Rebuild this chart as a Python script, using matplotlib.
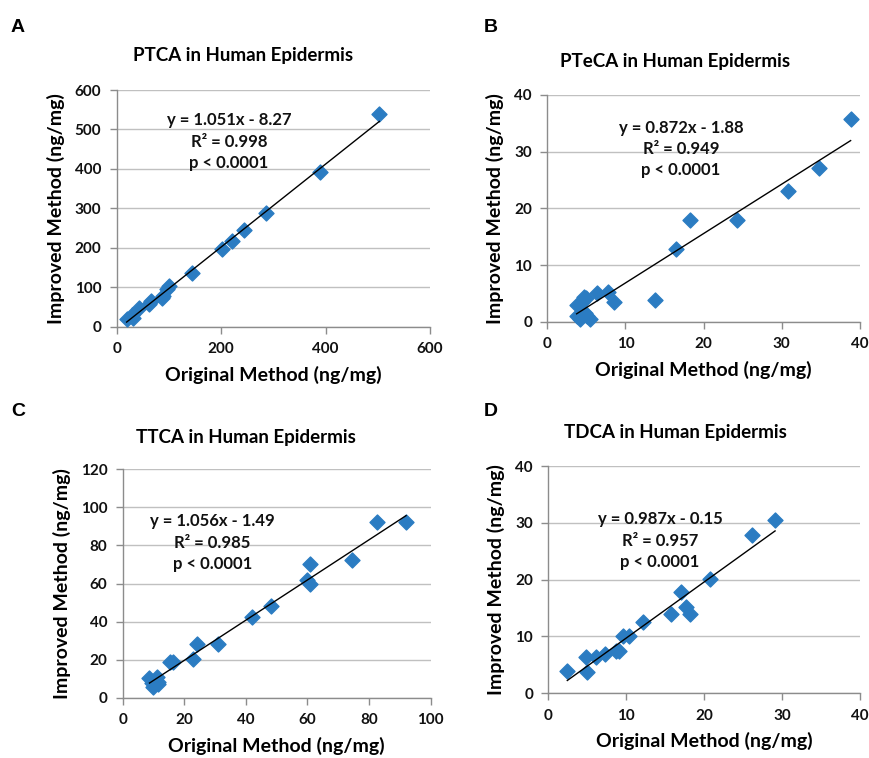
import matplotlib
matplotlib.use("Agg")
import matplotlib.pyplot as plt
import numpy as np

plt.rcParams['font.family'] = ['Lato', 'DejaVu Sans']
plt.rcParams['font.weight'] = 'bold'

# panel A - PTCA
ptca_x = [19, 29, 32, 43, 61, 65, 86, 89, 96, 100, 144, 201, 220, 243, 285, 390, 503]
ptca_y = [18.6, 29.6, 21, 46.5, 57.5, 66, 74, 78, 95, 103, 135, 196, 218, 245, 289, 393, 538]

# panel B - PTeCA
pteca_x = [3.75, 3.75, 4.18, 4.39, 4.69, 4.9, 4.8, 5.1, 5.4, 6.3, 7.8, 8.5, 13.8, 16.5, 18.2, 24.3, 30.8, 34.7, 38.8]
pteca_y = [2.94, 1.06, 0.41, 3.5, 4.4, 4.1, 1.5, 1.0, 0.4, 5.1, 5.2, 3.5, 3.8, 12.9, 17.9, 17.9, 23.1, 27.2, 35.8]

# panel C - TTCA
ttca_x = [8.7, 9.4, 10.0, 11.0, 11.3, 11.6, 15.2, 16.4, 22.9, 24.0, 31.1, 41.9, 48.1, 59.7, 60.8, 60.8, 74.4, 82.5, 92.0]
ttca_y = [10.2, 7.9, 5.8, 11.1, 8.4, 7.2, 18.9, 18.9, 20.4, 28.1, 28.1, 42.3, 48.4, 61.6, 59.6, 70.4, 72.5, 92.3, 92.3]

# panel D - TDCA
tdca_x = [2.44, 4.83, 4.91, 6.11, 7.26, 8.68, 9.1, 9.6, 10.4, 12.1, 15.8, 17.0, 17.7, 18.2, 20.7, 26.2, 29.1]
tdca_y = [3.93, 6.33, 3.81, 6.33, 6.92, 7.5, 7.5, 10.0, 10.0, 12.6, 14.0, 17.9, 15.2, 14.0, 20.1, 27.8, 30.5]

panels = [
    # letter, title, x, y, slope, intercept, r2, xmax, xstep, ymax, ystep
    ("A", "PTCA", ptca_x, ptca_y, 1.051, -8.27, "0.998", 600, 200, 600, 100),
    ("B", "PTeCA", pteca_x, pteca_y, 0.872, -1.88, "0.949", 40, 10, 40, 10),
    ("C", "TTCA", ttca_x, ttca_y, 1.056, -1.49, "0.985", 100, 20, 120, 20),
    ("D", "TDCA", tdca_x, tdca_y, 0.987, -0.15, "0.957", 40, 10, 40, 10),
]

W, H = 870, 758
# axes boxes in pixels: left, top, right, bottom
boxes = [(116.7, 90, 430, 326.7), (547.3, 95, 860, 321.7),
         (122.7, 469.3, 430.7, 697.7), (548.3, 466, 860, 693.3)]
letter_pos = [(18, 27), (491, 28), (18, 412), (491, 412)]
title_pos = [(243, 56), (675, 62), (246, 437), (675, 432)]
eq_pos = [(0.358, 0.905), (0.427, 0.89), (0.292, 0.807), (0.358, 0.80)]

blue = '#2b7cc2'
grid_c = '#c0c0c0'
axis_c = '#8c8c8c'

fig = plt.figure(figsize=(W / 100, H / 100), dpi=100)

for i, (letter, name, x, y, m, b, r2, xmax, xstep, ymax, ystep) in enumerate(panels):
    l, t, r, bt = boxes[i]
    ax = fig.add_axes([l / W, 1 - bt / H, (r - l) / W, (bt - t) / H])
    ax.set_xlim(0, xmax)
    ax.set_ylim(0, ymax)
    ax.set_xticks(np.arange(0, xmax + 1, xstep))
    ax.set_yticks(np.arange(0, ymax + 1, ystep))
    ax.yaxis.grid(True, color=grid_c, lw=1)
    ax.set_axisbelow(True)
    for s in ['top', 'right']:
        ax.spines[s].set_visible(False)
    for s in ['left', 'bottom']:
        ax.spines[s].set_color(axis_c)
        ax.spines[s].set_linewidth(1)
    ax.tick_params(direction='out', length=5, width=1, color=axis_c,
                   labelsize=11, pad=6, labelcolor='#111111')
    for lab in ax.get_xticklabels() + ax.get_yticklabels():
        lab.set_fontweight('bold')

    ax.scatter(x, y, marker='D', s=58, color=blue, zorder=3, clip_on=False)
    xs = np.array([min(x), max(x)])
    ax.plot(xs, m * xs + b, color='black', lw=1, zorder=4)

    sign = '-' if b < 0 else '+'
    eq = f"y = {m:.3f}x {sign} {abs(b):.2f}\nR² = {r2}\np < 0.0001"
    ax.text(eq_pos[i][0], eq_pos[i][1], eq, transform=ax.transAxes,
            ha='center', va='top', fontsize=12, fontweight='bold',
            linespacing=1.4, color='#111111')

    ax.set_xlabel('Original Method (ng/mg)', fontsize=14, fontweight='bold',
                  labelpad=7)
    ax.set_ylabel('Improved Method (ng/mg)', fontsize=14, fontweight='bold',
                  labelpad=7)

    fig.text(letter_pos[i][0] / W, 1 - letter_pos[i][1] / H, letter,
             fontsize=14, fontweight='bold', ha='center', va='center',
             family=['Liberation Sans', 'DejaVu Sans'])
    fig.text(title_pos[i][0] / W, 1 - title_pos[i][1] / H,
             f"{name} in Human Epidermis", fontsize=13.5, fontweight='bold',
             ha='center', va='center')

fig.savefig('out.png', dpi=100)
